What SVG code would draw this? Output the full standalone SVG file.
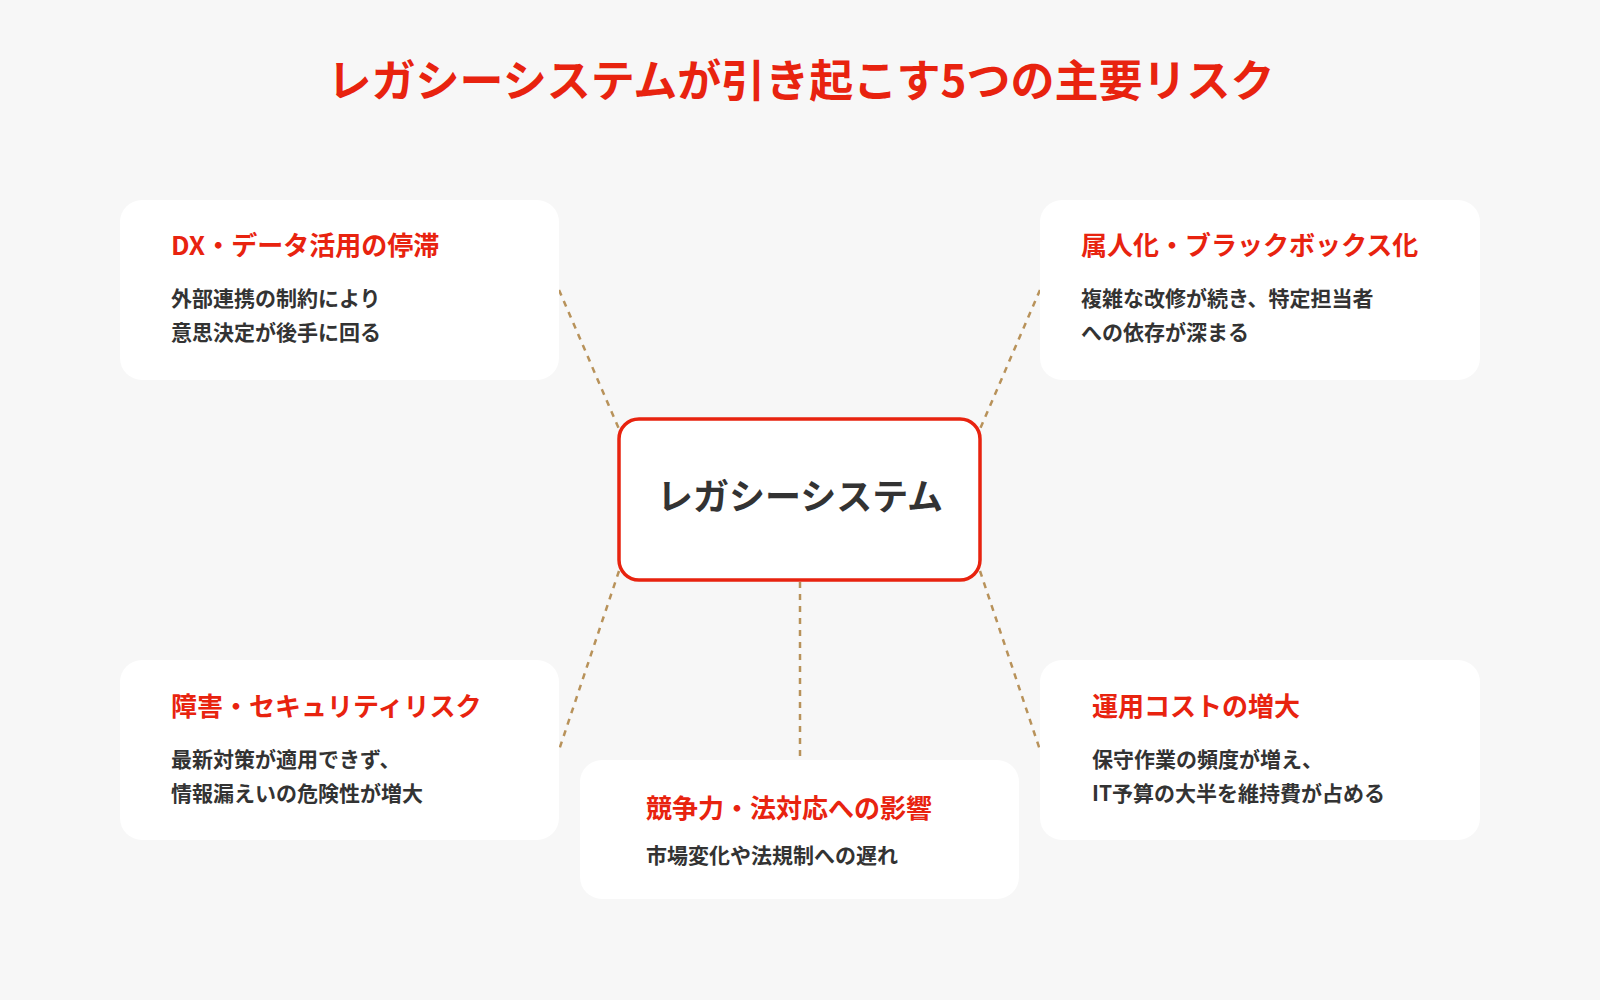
<svg xmlns="http://www.w3.org/2000/svg" width="1600" height="1000" viewBox="0 0 1600 1000">
<style>
text{font-family:"Noto Sans CJK JP","Noto Sans",sans-serif;font-weight:700}
.card{fill:#fff}
.h{fill:#e8230f;font-size:26px}
.b{fill:#333;font-size:21px}
.ln{stroke:#b8925a;stroke-width:2.5;stroke-dasharray:6 6;fill:none}
</style>
<rect width="1600" height="1000" fill="#f7f7f7"/>
<text x="801" y="97" text-anchor="middle" fill="#e8230f" font-size="44">レガシーシステムが引き起こす5つの主要リスク</text>
<g id="connectors">
<line class="ln" x1="559" y1="290" x2="619" y2="429"/>
<line class="ln" x1="1040" y1="290" x2="980" y2="429"/>
<line class="ln" x1="619" y1="571" x2="559" y2="750"/>
<line class="ln" x1="980" y1="571" x2="1040" y2="750"/>
<line class="ln" x1="800" y1="582" x2="800" y2="760"/>
</g>
<g id="center">
<rect x="619" y="419" width="361" height="161" rx="20" fill="#fff" stroke="#e8230f" stroke-width="3.5"/>
<text x="800" y="510" text-anchor="middle" fill="#333" font-size="36">レガシーシステム</text>
</g>
<g id="dx">
<rect class="card" x="120" y="200" width="439" height="180" rx="22"/>
<text class="h" x="171" y="255">DX・データ活用の停滞</text>
<text class="b" x="171" y="306">外部連携の制約により</text>
<text class="b" x="171" y="340">意思決定が後手に回る</text>
</g>
<g id="zokujin">
<rect class="card" x="1040" y="200" width="440" height="180" rx="22"/>
<text class="h" x="1081" y="255">属人化・ブラックボックス化</text>
<text class="b" x="1081" y="306">複雑な改修が続き、特定担当者</text>
<text class="b" x="1081" y="340">への依存が深まる</text>
</g>
<g id="security">
<rect class="card" x="120" y="660" width="439" height="180" rx="22"/>
<text class="h" x="171" y="716">障害・セキュリティリスク</text>
<text class="b" x="171" y="767">最新対策が適用できず、</text>
<text class="b" x="171" y="801">情報漏えいの危険性が増大</text>
</g>
<g id="cost">
<rect class="card" x="1040" y="660" width="440" height="180" rx="22"/>
<text class="h" x="1092" y="716">運用コストの増大</text>
<text class="b" x="1092" y="767">保守作業の頻度が増え、</text>
<text class="b" x="1092" y="801">IT予算の大半を維持費が占める</text>
</g>
<g id="compete">
<rect class="card" x="580" y="760" width="439" height="139" rx="22"/>
<text class="h" x="646" y="818">競争力・法対応への影響</text>
<text class="b" x="646" y="863">市場変化や法規制への遅れ</text>
</g>
</svg>
